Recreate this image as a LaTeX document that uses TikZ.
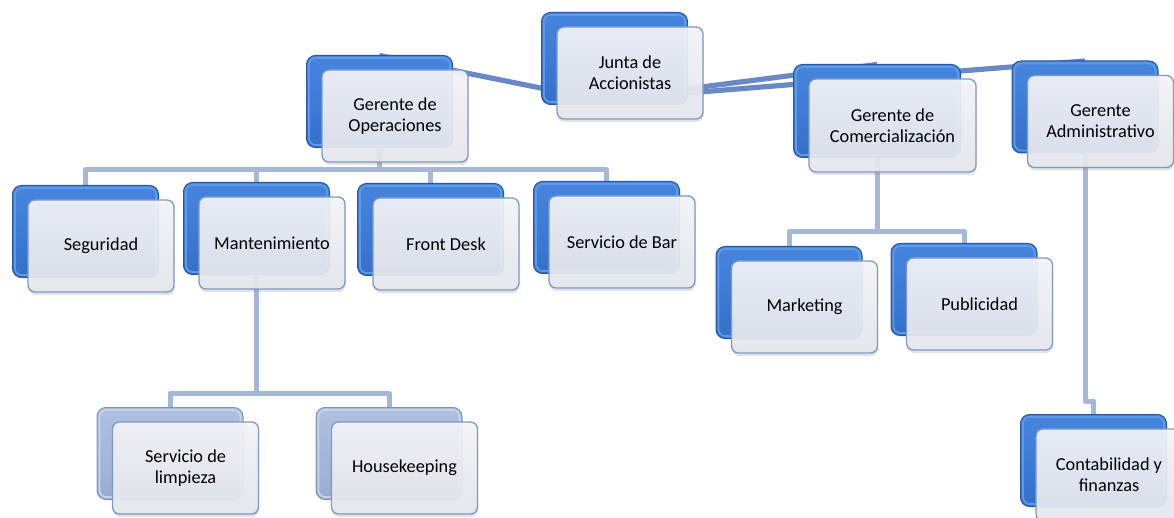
\documentclass[tikz,border=0pt]{standalone}
\usepackage{fontspec}
\setmainfont{Carlito}
\usetikzlibrary{calc,shadows}
\pgfdeclarelayer{bg}
\pgfsetlayers{bg,main}
\definecolor{bbA}{HTML}{2C60B2}
\definecolor{bbB}{HTML}{3A77D2}
\definecolor{bbC}{HTML}{4A89E0}
\definecolor{bbD}{HTML}{80B2F0}
\definecolor{bbE}{HTML}{4A86D8}
\definecolor{bbEdge}{HTML}{2856A0}
\definecolor{bbHi}{HTML}{5C9AEC}
\definecolor{blA}{HTML}{8699BF}
\definecolor{blB}{HTML}{A2B4D6}
\definecolor{blC}{HTML}{B2C3E2}
\definecolor{blD}{HTML}{D6E0F2}
\definecolor{blE}{HTML}{BCCAE5}
\definecolor{blEdge}{HTML}{7F93BA}
\definecolor{blHi}{HTML}{C6D3EC}
\definecolor{fTop}{HTML}{F4F5F8}
\definecolor{fBot}{HTML}{E4E7ED}
\definecolor{fEdge}{HTML}{7F98C6}
\definecolor{dConn}{HTML}{6989C6}
\definecolor{lConn}{HTML}{A6B8D9}
\pgfdeclareverticalshading{backblue}{100bp}{color(0bp)=(bbA); color(40bp)=(bbB); color(86bp)=(bbC); color(94bp)=(bbD); color(100bp)=(bbE)}
\pgfdeclareverticalshading{backlight}{100bp}{color(0bp)=(blA); color(40bp)=(blB); color(86bp)=(blC); color(94bp)=(blD); color(100bp)=(blE)}
\tikzset{
  boxsize/.style={minimum width=146pt, minimum height=92pt},
  bevel/.style={path picture={
      \draw[draw=#1, line width=1.8pt, rounded corners=7pt]
        ([xshift=2.4pt,yshift=2.4pt]path picture bounding box.south west) rectangle
        ([xshift=-2.4pt,yshift=-2.4pt]path picture bounding box.north east);}},
  backbox/.style={draw=bbEdge, line width=1pt, rounded corners=9pt, shading=backblue, bevel=bbHi, inner sep=0pt, outer sep=0pt},
  lightback/.style={draw=blEdge, shading=backlight, bevel=blHi},
  darkback/.style={},
  frontbox/.style={draw=fEdge, line width=1.3pt, rounded corners=7pt, top color=fTop, bottom color=fBot,
    fill opacity=0.92, text opacity=1, inner sep=2pt, outer sep=0pt, align=center, text=black,
    font=\fontsize{18.3}{21}\selectfont,
    drop shadow={opacity=0.22, shadow xshift=0.5pt, shadow yshift=-3pt}},
  dconn/.style={draw=dConn, line width=5.2pt, line cap=butt,
    postaction={draw=dConn, line width=2.6pt}},
  lconn/.style={draw=lConn, line width=5pt, line join=round},
}
% #1 name, #2 centre of front box, #3 text, #4 back style, #5 size style
\newcommand\orgbox[5]{%
  \node[backbox,#5,#4] (#1-b) at ($(#2)+(-15.5,-14.5)$) {};
  \node[frontbox,#5] (#1) at (#2) {#3};
}
\begin{document}
\begin{tikzpicture}[x=1pt,y=-1pt]
\useasboundingbox (0,0) rectangle (1174,518);
\orgbox{junta}{630,73}{Junta de\\Accionistas}{darkback}{boxsize}
\orgbox{ops}{395,116}{Gerente de\\Operaciones}{darkback}{boxsize}
\orgbox{com}{892.5,125.5}{Gerente de\\Comercialización}{darkback}{minimum width=167pt, minimum height=93pt}
\orgbox{adm}{1100.5,121.5}{Gerente\\Administrativo}{darkback}{boxsize}
\orgbox{seg}{101,246}{Seguridad}{darkback}{boxsize}
\orgbox{man}{272,243}{Mantenimiento}{darkback}{boxsize}
\orgbox{fd}{446,244}{Front Desk}{darkback}{boxsize}
\orgbox{sbar}{622,242}{Servicio de Bar}{darkback}{boxsize}
\orgbox{mkt}{804.5,307}{Marketing}{darkback}{boxsize}
\orgbox{pub}{979.5,304}{Publicidad}{darkback}{boxsize}
\orgbox{lim}{185.5,468}{Servicio de\\limpieza}{lightback}{boxsize}
\orgbox{hk}{404.5,468}{Housekeeping}{lightback}{boxsize}
\orgbox{con}{1109,475}{Contabilidad y\\finanzas}{darkback}{boxsize}
\begin{pgfonlayer}{bg}
  \coordinate (jc) at (600,100);
  \draw[dconn] (jc) -- (ops-b.north);
  \draw[dconn] (jc) -- (com-b.north);
  \draw[dconn] (jc) -- (adm-b.north);
  \coordinate (opsbar) at (0,170);
  \draw[lconn] (ops-b.south) -- (ops-b.south |- opsbar) -| (seg-b.north);
  \draw[lconn] (ops-b.south) -- (ops-b.south |- opsbar) -| (man-b.north);
  \draw[lconn] (ops-b.south) -- (ops-b.south |- opsbar) -| (fd-b.north);
  \draw[lconn] (ops-b.south) -- (ops-b.south |- opsbar) -| (sbar-b.north);
  \coordinate (manbar) at (0,393);
  \draw[lconn] (man-b.south) -- (man-b.south |- manbar) -| (lim-b.north);
  \draw[lconn] (man-b.south) -- (man-b.south |- manbar) -| (hk-b.north);
  \coordinate (combar) at (0,232);
  \draw[lconn] (com-b.south) -- (com-b.south |- combar) -| (mkt-b.north);
  \draw[lconn] (com-b.south) -- (com-b.south |- combar) -| (pub-b.north);
  \coordinate (admbar) at (0,401);
  \draw[lconn] (adm-b.south) -- (adm-b.south |- admbar) -| (con-b.north);
\end{pgfonlayer}
\end{tikzpicture}
\end{document}
